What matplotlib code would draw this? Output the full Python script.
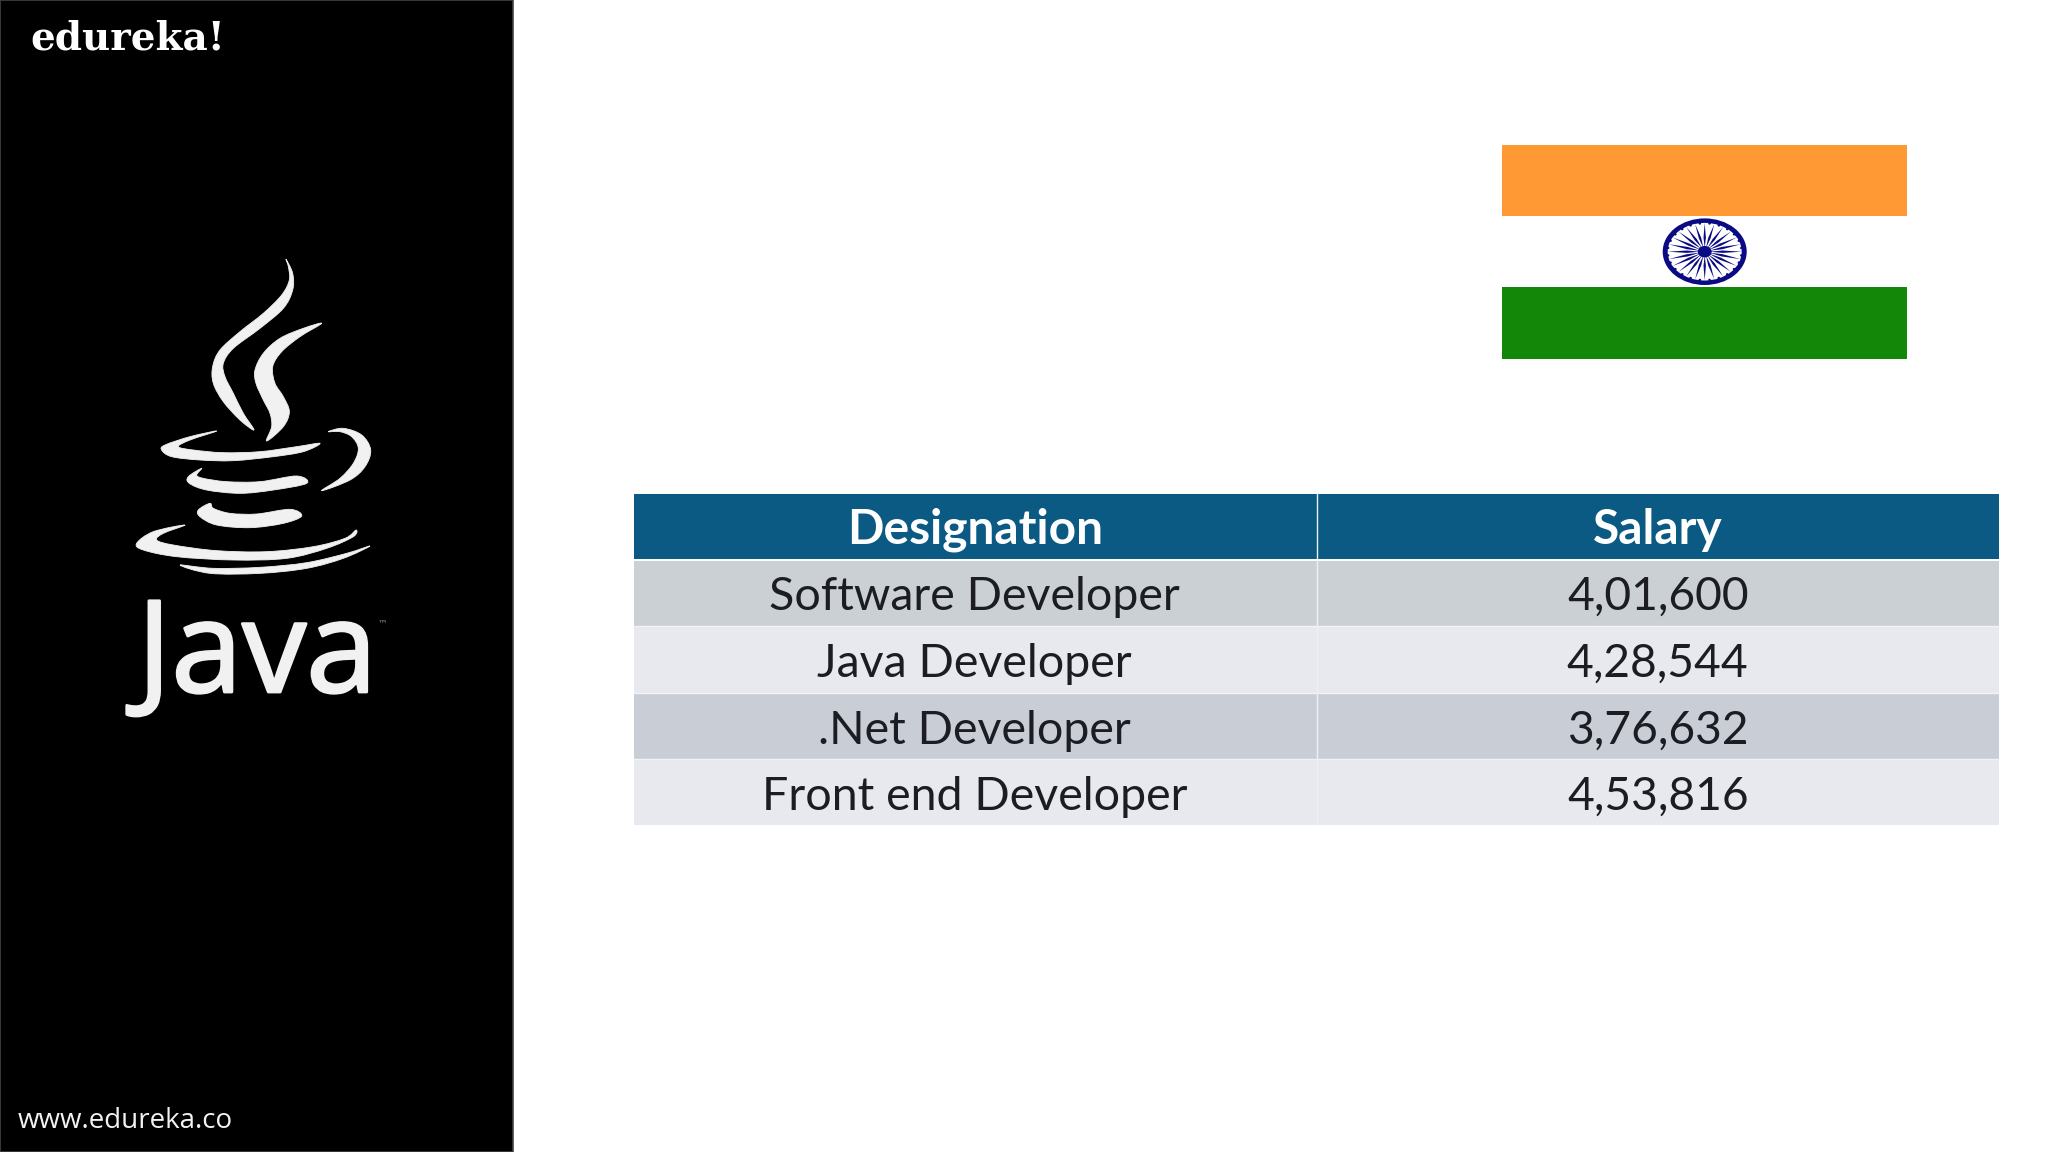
import numpy as np
import matplotlib
matplotlib.use('Agg')
import matplotlib.pyplot as plt
import matplotlib.patheffects as pe
from matplotlib.patches import Rectangle, Ellipse, Polygon, PathPatch
from matplotlib.path import Path

# Table content
columns = ['Designation', 'Salary']
designations = ['Software Developer', 'Java Developer', '.Net Developer', 'Front end Developer']
salaries = ['4,01,600', '4,28,544', '3,76,632', '4,53,816']

# Colours
HEADER = '#0A5A84'
ROW_COLORS = ['#CBD0D4', '#E8E9EF', '#C9CDD5', '#E8E9EE']
TEXT = '#1B1D22'
LOGO = '#F1F1F1'

# Layout in image pixels
COL_X = [634, 1316.5, 1999]
HEAD_Y = [493.5, 559]
ROW_Y = [560.5, 625.5, 692.5, 759, 825]

steam_left = [(558, 88), (578, 130), (578, 180), (550, 235), (480, 295), (400, 355), (370, 400),
              (375, 440), (400, 490), (430, 550), (462, 600), (420, 570), (370, 515), (340, 460),
              (338, 410), (360, 360), (420, 305), (490, 250), (545, 195), (568, 150), (565, 110)]
steam_right = [(665, 280), (600, 320), (545, 365), (518, 410), (525, 460), (550, 500), (568, 545),
               (550, 590), (500, 633), (515, 590), (510, 550), (490, 510), (468, 460), (465, 420),
               (490, 370), (540, 325), (610, 295)]
cup_rim = [(350, 603), (270, 620), (195, 645), (185, 660), (215, 680), (300, 690), (400, 692),
           (520, 680), (610, 665), (660, 640), (590, 650), (480, 665), (370, 668), (280, 660),
           (235, 650), (270, 630)]
cup_handle = [(685, 605), (730, 595), (785, 615), (812, 660), (795, 710), (750, 750), (665, 782),
              (720, 745), (760, 700), (775, 655), (755, 620), (720, 605)]
cup_band_1 = [(305, 715), (265, 740), (268, 760), (320, 780), (420, 790), (520, 780), (620, 760),
              (590, 738), (480, 755), (380, 755), (310, 745), (290, 735)]
cup_band_2 = [(330, 820), (295, 840), (300, 860), (350, 885), (450, 893), (550, 880), (605, 858),
              (570, 838), (470, 852), (390, 850), (340, 835)]
saucer = [(255, 885), (160, 905), (110, 940), (130, 960), (230, 980), (400, 990), (560, 985),
          (680, 955), (760, 920), (768, 900), (735, 925), (640, 950), (500, 965), (350, 962),
          (220, 945), (170, 930), (190, 910)]
saucer_shadow = [(240, 1005), (330, 1030), (480, 1030), (620, 1015), (730, 985), (810, 948),
                 (740, 970), (620, 998), (480, 1012), (340, 1015)]
cup_shapes = [steam_left, steam_right, cup_rim, cup_handle, cup_band_1, cup_band_2, saucer, saucer_shadow]


def smooth_patch(points, color):
    # closed catmull-rom curve through the outline points
    pts = np.array(points, dtype=float) / 3 + [100, 230]
    n = len(pts)
    verts = [pts[0]]
    codes = [Path.MOVETO]
    for i in range(n):
        p0, p1, p2, p3 = pts[i - 1], pts[i], pts[(i + 1) % n], pts[(i + 2) % n]
        verts += [p1 + (p2 - p0) / 6, p2 - (p3 - p1) / 6, p2]
        codes += [Path.CURVE4] * 3
    return PathPatch(Path(verts, codes), facecolor=color, edgecolor=color, linewidth=0.6)


fig = plt.figure(figsize=(20.48, 11.52), dpi=100, facecolor='white')
ax = fig.add_axes([0, 0, 1, 1])
ax.set_xlim(0, 2048)
ax.set_ylim(1152, 0)
ax.axis('off')

# Black side panel
ax.add_patch(Rectangle((0, 0), 513, 1152, facecolor='black', edgecolor='#444444', linewidth=1.2))
ax.text(30, 50, 'edureka!', color='white', fontsize=28, fontweight='bold',
        family='DejaVu Serif', va='baseline')
ax.text(18, 1128, 'www.edureka.co', color='#F2F2F2', fontsize=20, family='Open Sans', va='baseline')

for shape in cup_shapes:
    ax.add_patch(smooth_patch(shape, LOGO))
java = ax.text(137, 692, 'Java', color=LOGO, fontsize=92, family='Open Sans', va='baseline')
java.set_path_effects([pe.withStroke(linewidth=2, foreground=LOGO)])
ax.text(378, 626, '™', color='#888888', fontsize=7, family='DejaVu Sans', va='baseline')

# Flag
flag_x, flag_w = 1501.5, 405.5
ax.add_patch(Rectangle((flag_x, 144.5), flag_w, 71.5, facecolor='#FF9933', edgecolor='none'))
ax.add_patch(Rectangle((flag_x, 287), flag_w, 71.5, facecolor='#138808', edgecolor='none'))

cx, cy, rx, ry = 1704.7, 251.7, 42, 33.3
navy = '#0A0A85'
ax.add_patch(Ellipse((cx, cy), 2 * rx, 2 * ry, facecolor=navy, edgecolor='none'))
ax.add_patch(Ellipse((cx, cy), 2 * rx - 10, 2 * ry - 9, facecolor='white', edgecolor='none'))
for a in np.radians(np.arange(0, 360, 15)):
    ca, sa = np.cos(a), np.sin(a)
    nx, ny = -sa, ca
    ax.add_patch(Polygon([(cx + 5 * ca, cy + 4 * sa),
                          (cx + 18 * ca + 1.2 * nx, cy + 14 * sa + 1.2 * ny),
                          (cx + 37 * ca, cy + 28.5 * sa),
                          (cx + 18 * ca - 1.2 * nx, cy + 14 * sa - 1.2 * ny)],
                         facecolor=navy, edgecolor='none'))
    b = a + np.radians(7.5)
    ax.add_patch(Ellipse((cx + 37 * np.cos(b), cy + 28.5 * np.sin(b)), 2.6, 2.4,
                         facecolor=navy, edgecolor='none'))
ax.add_patch(Ellipse((cx, cy), 14, 11.5, facecolor=navy, edgecolor='none'))

# Table
ax.add_patch(Rectangle((COL_X[0], HEAD_Y[0]), COL_X[2] - COL_X[0], HEAD_Y[1] - HEAD_Y[0],
                       facecolor=HEADER, edgecolor='none'))
for i, color in enumerate(ROW_COLORS):
    ax.add_patch(Rectangle((COL_X[0], ROW_Y[i]), COL_X[2] - COL_X[0], ROW_Y[i + 1] - ROW_Y[i],
                           facecolor=color, edgecolor='none'))
    if i > 0:
        ax.plot(COL_X[0::2], [ROW_Y[i]] * 2, color='#F2F3F5', lw=1)
ax.plot([COL_X[1]] * 2, [HEAD_Y[0], ROW_Y[-1]], color='#EEF1F4', lw=1)

centers = [(COL_X[0] + COL_X[1]) / 2, (COL_X[1] + COL_X[2]) / 2]
for x, name in zip(centers, columns):
    ax.text(x, HEAD_Y[1] - 15.5, name, color='white', fontsize=34.5, fontweight='bold',
            family='Lato', ha='center', va='baseline')
for i in range(len(designations)):
    base = ROW_Y[i + 1] - 15.5
    ax.text(centers[0] - 1, base, designations[i], color=TEXT, fontsize=33.5, family='Lato',
            ha='center', va='baseline')
    ax.text(centers[1], base, salaries[i], color=TEXT, fontsize=33.2, family='Lato',
            ha='center', va='baseline')

fig.savefig('out.png', dpi=100)
